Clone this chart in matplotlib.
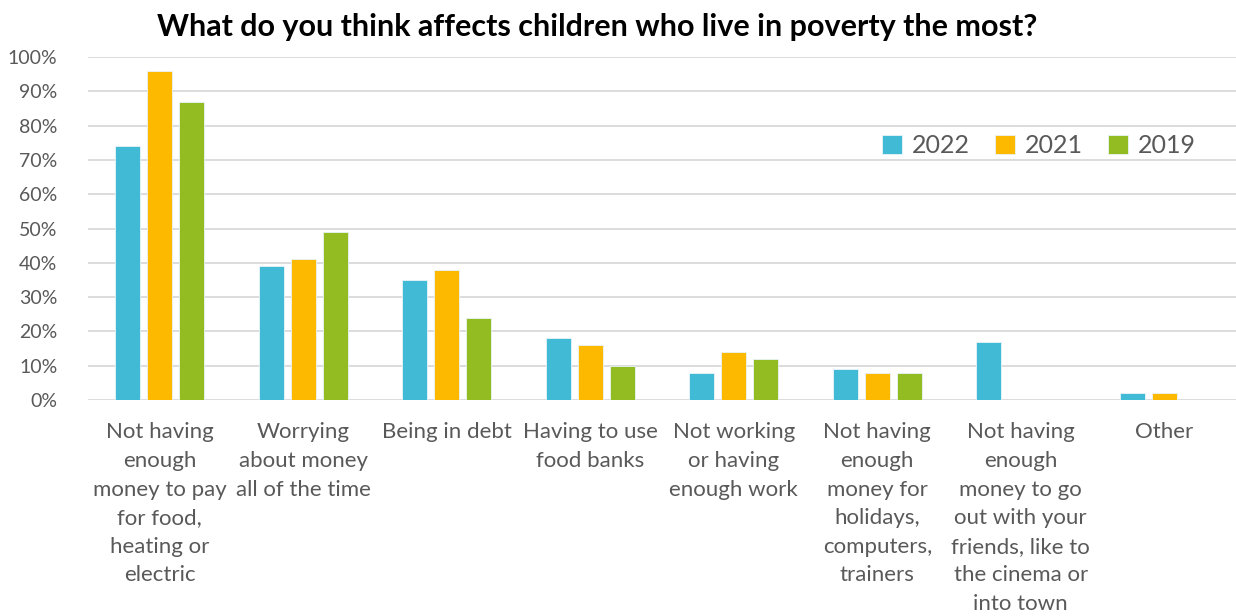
import matplotlib
matplotlib.use("Agg")
import matplotlib.pyplot as plt
import numpy as np

plt.rcParams["font.family"] = ["Lato", "DejaVu Sans"]

categories = [
    "Not having\nenough\nmoney to pay\nfor food,\nheating or\nelectric",
    "Worrying\nabout money\nall of the time",
    "Being in debt",
    "Having to use\nfood banks",
    "Not working\nor having\nenough work",
    "Not having\nenough\nmoney for\nholidays,\ncomputers,\ntrainers",
    "Not having\nenough\nmoney to go\nout with your\nfriends, like to\nthe cinema or\ninto town",
    "Other",
]
series_names = ["2022", "2021", "2019"]
values_2022 = [74, 39, 35, 18, 8, 9, 17, 2]
values_2021 = [96, 41, 38, 16, 14, 8, 0, 2]
values_2019 = [87, 49, 24, 10, 12, 8, 0, 0]
colors = ["#40BAD5", "#FDB900", "#92BC21"]

TEXT = "#595959"

fig = plt.figure(figsize=(12.36, 6.16), dpi=100)
ax = fig.add_axes([0.0712, 0.3506, 0.9288, 0.5569])

x = np.arange(len(categories))
bw = 0.174
step = 0.223
for i, (name, vals) in enumerate(zip(series_names, [values_2022, values_2021, values_2019])):
    ax.bar(x + (i - 1) * step, vals, width=bw, color=colors[i], label=name,
           edgecolor="#e8f4f8", linewidth=0.6, zorder=3)

ax.set_xlim(-0.5, len(categories) - 0.5)
ax.set_ylim(0, 100)
ax.set_yticks(np.arange(0, 101, 10))
ax.set_yticklabels([f"{v}%" for v in range(0, 101, 10)], fontsize=14, color=TEXT)
ax.set_xticks(x)
ax.set_xticklabels(categories, fontsize=16, color=TEXT, linespacing=1.54, va="top")
ax.tick_params(axis="both", length=0)
ax.tick_params(axis="x", pad=16)
ax.tick_params(axis="y", pad=22)
ax.grid(axis="y", color="#D9D9D9", linewidth=1.3, zorder=0)
ax.set_axisbelow(True)
for s in ax.spines.values():
    s.set_visible(False)

ax.legend(loc="upper right", bbox_to_anchor=(0.985, 0.84), ncol=3, frameon=False,
          fontsize=18, labelcolor=TEXT, handlelength=0.8, handleheight=0.8,
          handletextpad=0.4, columnspacing=1.0)

fig.text(0.483, 0.956, "What do you think affects children who live in poverty the most?",
         ha="center", va="center", fontsize=22, fontweight="bold", color="black")

fig.savefig("out.png", dpi=100)
